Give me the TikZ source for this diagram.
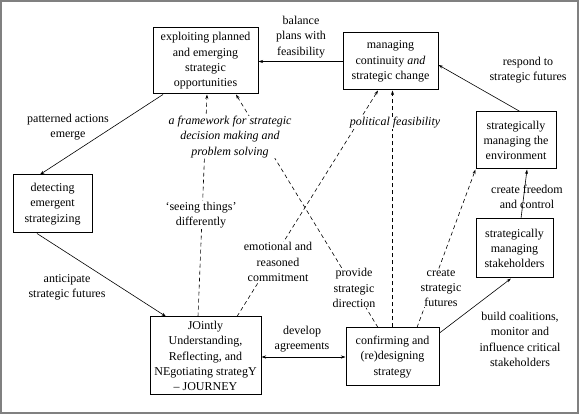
\documentclass[tikz,border=0pt]{standalone}
\usepackage{fontspec}
\setmainfont{Liberation Serif}
\usetikzlibrary{arrows.meta}
\begin{document}
\begin{tikzpicture}[x=1pt,y=-1pt,
 box/.style={draw,line width=1pt,rectangle,inner sep=0pt,align=center,font=\fontsize{12}{15.3}\selectfont},
 lbl/.style={align=center,inner sep=0.5pt,font=\fontsize{12}{15.3}\selectfont},
 wlbl/.style={lbl,fill=white},
 arr/.style={-{Stealth[length=4.5pt,width=3pt]},line width=0.6pt},
 darr/.style={arr,dash pattern=on 4pt off 3pt}]
\useasboundingbox (0,0) rectangle (579,414);
\draw[line width=2pt,color=gray] (1,1) rectangle (578,413);

% boxes
\node[box,minimum width=105pt,minimum height=66pt] (E) at (205.5,61) {exploiting planned\\and emerging\\strategic\\opportunities};
\node[box,minimum width=95pt,minimum height=57pt] (M) at (390.5,61.5) {managing\\continuity \textit{and}\\strategic change};
\node[box,minimum width=80pt,minimum height=57pt] (V) at (516,140.5) {strategically\\managing the\\environment};
\node[box,minimum width=77pt,minimum height=59pt] (S) at (514.5,248.5) {strategically\\managing\\stakeholders};
\node[box,minimum width=93pt,minimum height=58pt] (C) at (392.5,357) {confirming and\\(re)designing\\strategy};
\node[box,minimum width=111pt,minimum height=78pt] (J) at (205.5,356) {JOintly\\Understanding,\\Reflecting, and\\NEgotiating strategY\\\textendash\ JOURNEY};
\node[box,minimum width=79pt,minimum height=58pt] (D) at (52.5,204) {detecting\\emergent\\strategizing};

% solid connectors
\draw[arr] (M.west) -- (M.west -| E.east);
\draw[arr] ([xshift=-42.5pt]E.south) -- ([xshift=-12.5pt]D.north);
\draw[arr] ([xshift=-15.5pt]D.south) -- ([xshift=-39.5pt]J.north);
\draw[arr,{Stealth[length=4.5pt,width=3pt]}-{Stealth[length=4.5pt,width=3pt]}] (C.west) -- (C.west -| J.east);
\draw[arr] ([yshift=24pt]C.east) -- ([xshift=-3.5pt]S.south);
\draw[arr] ([xshift=6.5pt]S.north) -- ([xshift=11pt]V.south);
\draw[arr] ([xshift=4pt]V.north) -- ([yshift=-3.5pt]M.east);

% dashed connectors
\draw[darr] ([xshift=-7.5pt]J.north) -- ([xshift=1.5pt]E.south);
\draw[darr] ([xshift=-14.5pt]C.north) -- ([xshift=30.5pt]E.south);
\draw[darr] ([xshift=31.5pt]J.north) -- ([xshift=-12.5pt]M.south);
\draw[darr] (C.north) -- (C.north |- M.south);
\draw[darr] ([xshift=24.5pt]C.north) -- (V.south west);

% labels
\node[lbl] (l1) at (301,37) {balance\\plans with\\feasibility};
\node[lbl] (l2) at (68,127) {patterned actions\\emerge};
\node[lbl] (l3) at (67,287) {anticipate\\strategic futures};
\node[lbl] (l4) at (302,339) {develop\\agreements};
\node[lbl] (l5) at (520,339.5) {build coalitions,\\monitor and\\influence critical\\stakeholders};
\node[lbl] (l6) at (527,197) {create freedom\\and control};
\node[lbl] (l7) at (528,70) {respond to\\strategic futures};
\node[wlbl] (w1) at (201,215) {‘seeing things’\\differently};
\node[wlbl,font=\fontsize{12}{15.3}\selectfont\itshape] (w2) at (230,137) {a framework for strategic\\decision making and\\problem solving};
\node[wlbl] (w3) at (278,262) {emotional and\\reasoned\\commitment};
\node[wlbl] (w4) at (354,288) {provide\\strategic\\direction};
\node[wlbl,font=\fontsize{12}{15.3}\selectfont\itshape] (w5) at (395,123) {political feasibility};
\node[wlbl] (w6) at (441,288) {create\\strategic\\futures};
\end{tikzpicture}
\end{document}
